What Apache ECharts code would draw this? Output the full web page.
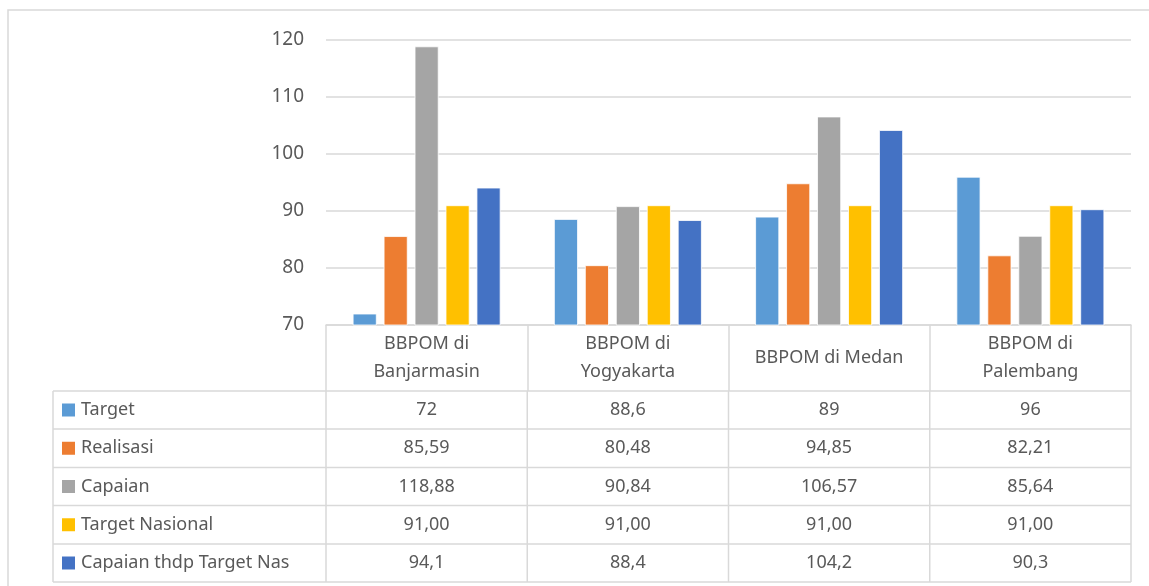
<!DOCTYPE html>
<html>
<head>
<meta charset="utf-8">
<script src="https://cdn.jsdelivr.net/npm/echarts@6/dist/echarts.min.js"></script>
<style>
  html, body { margin: 0; padding: 0; background: #fff; }
  #main { width: 1149px; height: 586px; }
</style>
</head>
<body>
<div id="main"></div>
<script>
// data
var categories = ["BBPOM di\nBanjarmasin", "BBPOM di\nYogyakarta", "BBPOM di Medan", "BBPOM di\nPalembang"];
var seriesNames = ["Target", "Realisasi", "Capaian", "Target Nasional", "Capaian thdp Target Nas"];
var target = [72, 88.6, 89, 96];
var realisasi = [85.59, 80.48, 94.85, 82.21];
var capaian = [118.88, 90.84, 106.57, 85.64];
var targetNasional = [91, 91, 91, 91];
var capaianNas = [94.1, 88.4, 104.2, 90.3];
var yTicks = [70, 80, 90, 100, 110, 120];

var allValues = [target, realisasi, capaian, targetNasional, capaianNas];
var decimals = [null, 2, 2, 2, 1];
var colors = ["#5B9BD5", "#ED7D31", "#A5A5A5", "#FFC000", "#4472C4"];

// layout of plot + data table
var plotL = 326, plotR = 1131, plotT = 40, plotB = 325;
var tableL = 53;
var rowLines = [391, 429, 467.5, 505.5, 544, 582];
var textColor = "#595959";
var lineColor = "#d9d9d9";
var font = "'Noto Sans', 'Open Sans', sans-serif";
var fs = 18;

function fmt(v, d) {
  var s = d == null ? String(v) : v.toFixed(d);
  return s.replace(".", ",");
}

var myChart = echarts.init(document.getElementById("main"));

var colW = (plotR - plotL) / categories.length;
var graphics = [];

// outer border
graphics.push({
  type: "rect",
  shape: { x: 8, y: 10, width: 1160, height: 600 },
  style: { fill: null, stroke: lineColor, lineWidth: 1.5 },
  silent: true
});

// horizontal table lines
rowLines.forEach(function (y) {
  graphics.push({
    type: "line",
    shape: { x1: tableL, y1: y, x2: plotR, y2: y },
    style: { stroke: lineColor, lineWidth: 1.5 },
    silent: true
  });
});
// vertical table lines (below the header row)
var vx = [tableL];
for (var c = 0; c <= categories.length; c++) vx.push(plotL + c * colW);
vx.forEach(function (x) {
  graphics.push({
    type: "line",
    shape: { x1: x, y1: rowLines[0], x2: x, y2: rowLines[rowLines.length - 1] },
    style: { stroke: lineColor, lineWidth: 1.5 },
    silent: true
  });
});

// row legend + values
seriesNames.forEach(function (name, i) {
  var yMid = (rowLines[i] + rowLines[i + 1]) / 2;
  graphics.push({
    type: "rect",
    shape: { x: 62, y: yMid - 6.5, width: 13, height: 13 },
    style: { fill: colors[i] },
    silent: true
  });
  graphics.push({
    type: "text",
    x: 81, y: yMid,
    style: { text: name, fill: textColor, font: fs + "px " + font, verticalAlign: "middle" },
    silent: true
  });
  allValues[i].forEach(function (v, j) {
    graphics.push({
      type: "text",
      x: plotL + (j + 0.5) * colW, y: yMid,
      style: { text: fmt(v, decimals[i]), fill: textColor, font: fs + "px " + font, align: "center", verticalAlign: "middle" },
      silent: true
    });
  });
});

var series = seriesNames.map(function (name, i) {
  return {
    name: name,
    type: "bar",
    data: allValues[i],
    barWidth: 24,
    barGap: "29%",
    itemStyle: { color: colors[i], borderColor: "#fff", borderWidth: 0.8 }
  };
});

var option = {
  animation: false,
  color: colors,
  grid: { left: plotL, right: 1149 - plotR, top: plotT, bottom: 586 - plotB },
  xAxis: {
    type: "category",
    data: categories,
    axisLine: { show: true, lineStyle: { color: lineColor, width: 1.5 } },
    axisTick: { show: true, interval: 0, length: 66, lineStyle: { color: lineColor, width: 1.5 } },
    axisLabel: {
      interval: 0,
      hideOverlap: false,
      color: textColor,
      fontSize: fs,
      fontFamily: font,
      lineHeight: 28,
      margin: 33,
      verticalAlign: "middle",
      align: "center"
    }
  },
  yAxis: {
    type: "value",
    min: yTicks[0],
    max: yTicks[yTicks.length - 1],
    interval: 10,
    axisLine: { show: false },
    axisTick: { show: false },
    splitLine: { lineStyle: { color: lineColor, width: 1.5 } },
    axisLabel: { color: textColor, fontSize: 19, fontFamily: font, margin: 22 }
  },
  graphic: graphics,
  series: series
};

myChart.setOption(option);
</script>
</body>
</html>
